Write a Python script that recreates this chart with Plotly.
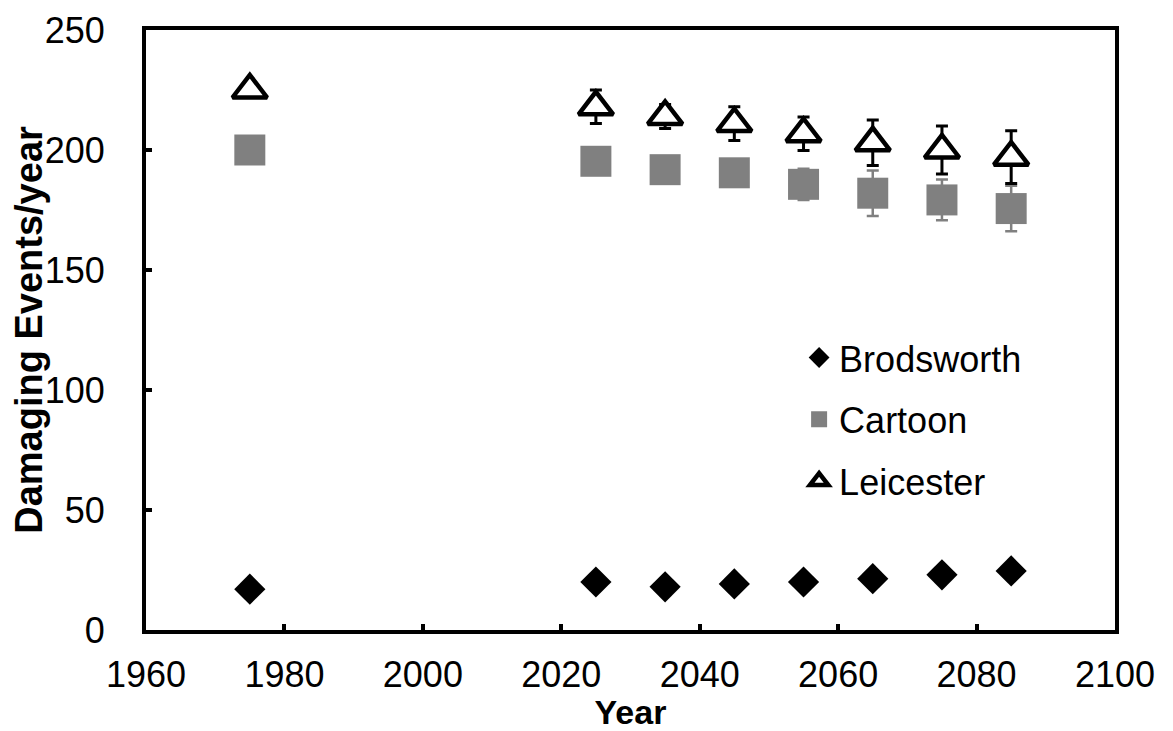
import plotly.graph_objects as go

# ---- data ----
years = [1975, 2025, 2035, 2045, 2055, 2065, 2075, 2085]

brodsworth = [17, 20, 18, 19.2, 20, 21.4, 23, 24.6]

cartoon = [200, 195.3, 191.8, 190.5, 185.7, 182, 179.2, 175.6]
cartoon_err = [0, 2, 3, 4, 6.5, 9.5, 8.5, 9.5]

leicester = [225, 218, 214, 211, 206.8, 203, 200, 197]
leicester_err = [0, 7, 5, 7, 7, 9.5, 10, 11]

x_ticks = [1960, 1980, 2000, 2020, 2040, 2060, 2080, 2100]
y_ticks = [0, 50, 100, 150, 200, 250]

FONT = "Arial, Liberation Sans, sans-serif"

fig = go.Figure()

fig.add_trace(go.Scatter(
    x=years, y=brodsworth, name="Brodsworth", mode="markers",
    legendgroup="b",
    marker=dict(symbol="diamond", size=24, color="black"),
))
fig.add_trace(go.Scatter(
    x=years, y=cartoon, name="Cartoon", mode="markers",
    legendgroup="c",
    marker=dict(symbol="square", size=31, color="#808080"),
    error_y=dict(type="data", array=cartoon_err, color="#808080",
                 thickness=2.5, width=6),
))
fig.add_trace(go.Scatter(
    x=years, y=leicester, name="Leicester", mode="markers",
    legendgroup="l",
    marker=dict(symbol="triangle-up", size=30, color="white",
                line=dict(color="black", width=4.5)),
    error_y=dict(type="data", array=leicester_err, color="black",
                 thickness=3, width=6),
))

# page body has an 8px margin, so the figure is a little smaller than the window
fig.update_layout(
    width=1165, height=723,
    margin=dict(l=138, r=58, t=22, b=101),
    plot_bgcolor="white", paper_bgcolor="white",
    font=dict(family=FONT, size=36, color="black"),
    showlegend=True,
    legend=dict(x=0.674, y=0.504, xanchor="left", yanchor="top",
                bgcolor="rgba(0,0,0,0)", font=dict(size=36),
                tracegroupgap=12),
)

fig.update_xaxes(
    range=[1960, 2100], tickvals=x_ticks, automargin=False,
    showline=True, linecolor="black", linewidth=4, mirror=True,
    ticks="inside", ticklen=6, tickwidth=4, tickcolor="black",
    showgrid=False, zeroline=False,
    title=dict(text="<b>Year</b>", font=dict(size=34), standoff=2),
    ticklabelstandoff=10,
)
fig.update_yaxes(
    range=[0, 250], tickvals=y_ticks, automargin=False,
    showline=True, linecolor="black", linewidth=4, mirror=True,
    ticks="inside", ticklen=6, tickwidth=4, tickcolor="black",
    showgrid=False, zeroline=False,
    title=dict(text="<b>Damaging Events/year</b>", font=dict(size=38), standoff=4),
    ticklabelstandoff=30,
)

fig.write_html("out.html")
